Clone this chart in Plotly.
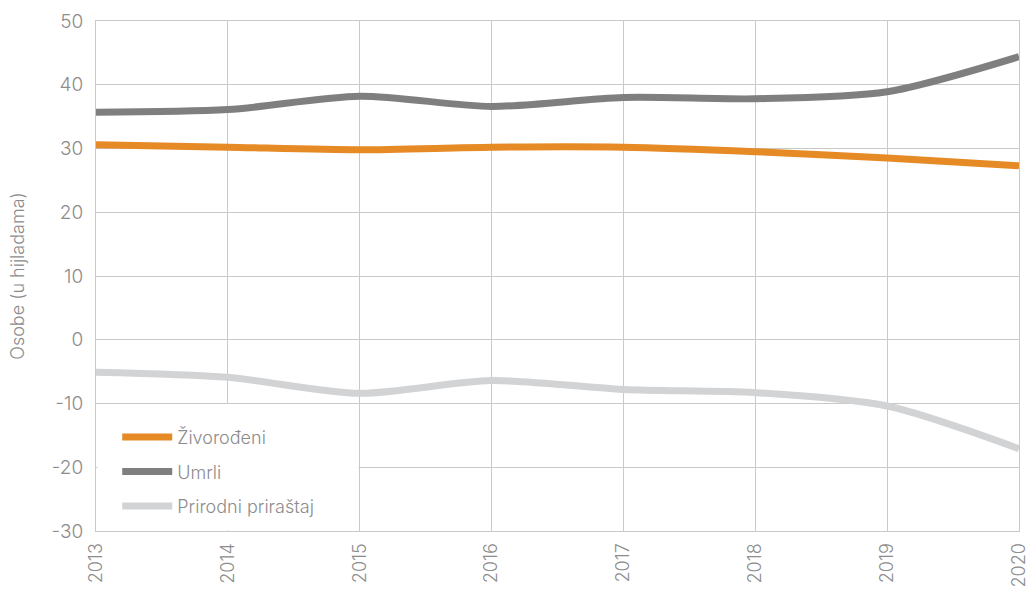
import plotly.graph_objects as go

years = [2013, 2014, 2015, 2016, 2017, 2018, 2019, 2020]
zivorodeni = [30.6, 30.2, 29.8, 30.2, 30.2, 29.5, 28.5, 27.3]
umrli = [35.7, 36.1, 38.2, 36.6, 38.0, 37.8, 38.9, 44.4]
prirodni = [-5.1, -5.9, -8.4, -6.4, -7.8, -8.3, -10.4, -17.1]
y_ticks = [-30, -20, -10, 0, 10, 20, 30, 40, 50]

names = ["Živorođeni", "Umrli", "Prirodni priraštaj"]
colors = ["#E68A25", "#7F7F7F", "#D2D3D5"]
series = [zivorodeni, umrli, prirodni]

FONT = "Inter"
TXT = "#8C8C8C"
GRID = "#C9C9C9"

fig = go.Figure()
for n, c, s in zip(names, colors, series):
    fig.add_trace(go.Scatter(x=years, y=s, name=n, mode="lines", legendgroup=n,
                             line=dict(color=c, width=7, shape="spline", smoothing=0.8)))

# white legend background covering grid lines
fig.add_shape(type="rect", xref="x", yref="y", x0=2013.01, x1=2014.99, y0=-29.92, y1=-10.08,
              fillcolor="white", line=dict(width=0), layer="between")

fig.update_layout(
    width=1029, height=594,
    margin=dict(l=96, r=10, t=21, b=63),
    paper_bgcolor="white", plot_bgcolor="white",
    font=dict(family=FONT, color=TXT, size=18, weight=300),
    showlegend=True,
    legend=dict(x=0.023, y=0.012, xanchor="left", yanchor="bottom",
                bgcolor="rgba(0,0,0,0)", font=dict(size=18, color=TXT, family=FONT, weight=300),
                itemwidth=50, tracegroupgap=8),
    xaxis=dict(range=[2013, 2020], tickmode="array", tickvals=years, ticktext=[str(y) for y in years],
               tickangle=-90, showgrid=True, gridcolor=GRID, gridwidth=1, automargin=False,
               showline=True, linecolor=GRID, linewidth=1, mirror=True, ticklabelstandoff=4,
               zeroline=False, ticks="", tickfont=dict(size=18, color=TXT, family=FONT, weight=300)),
    yaxis=dict(range=[-30, 50], tickmode="array", tickvals=y_ticks, ticktext=[str(v) for v in y_ticks],
               showgrid=True, gridcolor=GRID, gridwidth=1, automargin=False,
               showline=True, linecolor=GRID, linewidth=1, mirror=True,
               zeroline=False, ticks="", ticklabelstandoff=8,
               tickfont=dict(size=19, color=TXT, family=FONT, weight=300),
               title=dict(text="Osobe (u hijladama)", standoff=22,
                          font=dict(size=18, color=TXT, family=FONT, weight=300))),
)

fig.write_html("out.html", config={"displayModeBar": False},
               post_script="document.body.style.margin='0';document.body.style.overflow='hidden';")
